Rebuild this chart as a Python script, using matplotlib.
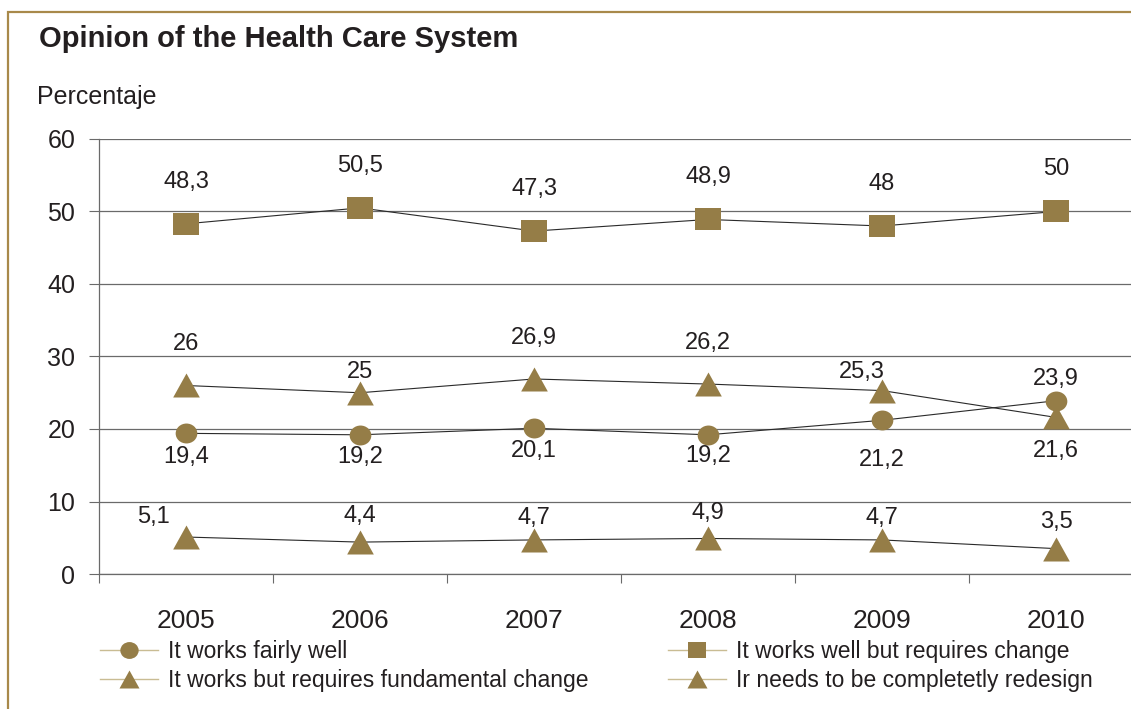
import matplotlib
matplotlib.use("Agg")
import matplotlib.pyplot as plt
import numpy as np
from matplotlib.path import Path
from matplotlib.lines import Line2D
from matplotlib.patches import Rectangle

# ---- data -------------------------------------------------------------
years = ["2005", "2006", "2007", "2008", "2009", "2010"]
fairly_well = [19.4, 19.2, 20.1, 19.2, 21.2, 23.9]
well_needs_change = [48.3, 50.5, 47.3, 48.9, 48.0, 50.0]
fundamental_change = [26.0, 25.0, 26.9, 26.2, 25.3, 21.6]
complete_redesign = [5.1, 4.4, 4.7, 4.9, 4.7, 3.5]

labels = [
    "It works fairly well",
    "It works well but requires change",
    "It works but requires fundamental change",
    "Ir needs to be completetly redesign",
]
yticks = [0, 10, 20, 30, 40, 50, 60]

# value-label offsets in pixels (dx, dy)
off_fairly = [(0, -24), (0, -22), (0, -23), (0, -21), (0, -40), (0, 22)]
off_well = [(0, 42)] * 6
off_fund = [(0, 41), (0, 21), (0, 41), (0, 41), (-20, 19), (0, -34)]
off_redesign = [(-33, 20), (0, 26), (0, 22), (0, 25), (0, 22), (0, 27)]

# ---- style ------------------------------------------------------------
plt.rcParams["font.family"] = ["Liberation Sans", "DejaVu Sans"]
GOLD = "#957D47"
LEG_LINE = "#C9BC93"
TEXT = "#231F20"
GRID = "#6A6A6A"

# slightly wide marker shapes
sq = Path([(-1, -0.885), (1, -0.885), (1, 0.885), (-1, 0.885), (-1, -0.885)],
          [Path.MOVETO, Path.LINETO, Path.LINETO, Path.LINETO, Path.CLOSEPOLY])
circ_base = Path.unit_circle()
circ = Path(circ_base.vertices * np.array([1.0, 0.92]), circ_base.codes)
tri = Path([(0, 0.9), (-1, -0.9), (1, -0.9), (0, 0.9)],
           [Path.MOVETO, Path.LINETO, Path.LINETO, Path.CLOSEPOLY])

W, H = 1131, 709
fig = plt.figure(figsize=(W / 100, H / 100), dpi=100)

# frame lines along the top and left
fig.patches.append(Rectangle((8 / W, -0.1), 1.2, 1 - 12 / H + 0.1,
                             transform=fig.transFigure, fill=False,
                             edgecolor="#A8894A", lw=1.6))

x0, xs = 99, 174
ax = fig.add_axes([x0 / W, (H - 574) / H, 6 * xs / W, (574 - 139) / H])
x = np.arange(len(years))

series = [
    (fairly_well, circ, 15.6, off_fairly),
    (well_needs_change, sq, 18.7, off_well),
    (fundamental_change, tri, 19.2, off_fund),
    (complete_redesign, tri, 19.2, off_redesign),
]
for vals, mk, ms, offs in series:
    ax.plot(x, vals, color="#2a2a2a", lw=0.8, zorder=3)
    ax.plot(x, vals, ls="none", marker=mk, ms=ms, color=GOLD,
            markeredgewidth=0, zorder=4)
    for xi, v, (dx, dy) in zip(x, vals, offs):
        ax.annotate(f"{v:g}".replace(".", ","), (xi, v), xytext=(dx, dy),
                    textcoords="offset pixels", ha="center", va="center",
                    fontsize=17, color=TEXT, zorder=5)

ax.set_xlim(-0.5, len(years) - 0.5)
ax.set_ylim(0, 60)
ax.set_yticks(yticks)
ax.set_yticklabels([str(t) for t in yticks])
ax.set_xticks(x)
ax.set_xticklabels(years)
ax.set_xticks(np.arange(-0.5, len(years)), minor=True)

ax.tick_params(axis="y", direction="out", length=7, width=0.8, color=GRID,
               pad=10, labelsize=18, labelcolor=TEXT)
ax.tick_params(axis="x", which="major", length=0, pad=25, labelsize=19,
               labelcolor=TEXT)
ax.tick_params(axis="x", which="minor", direction="out", length=6.5,
               width=0.8, color=GRID)

ax.grid(axis="y", color=GRID, lw=0.9)
ax.set_axisbelow(True)
for s in ("top", "right"):
    ax.spines[s].set_visible(False)
for s in ("left", "bottom"):
    ax.spines[s].set_color(GRID)
    ax.spines[s].set_linewidth(0.9)

# titles
fig.text(39 / W, 1 - 47 / H, "Opinion of the Health Care System",
         fontsize=21, fontweight="bold", color=TEXT, va="baseline")
fig.text(37 / W, 1 - 104 / H, "Percentaje", fontsize=18, color=TEXT,
         va="baseline")

# legend
def handle(mk, ms):
    return Line2D([], [], color=LEG_LINE, lw=1.0, marker=mk, ms=ms,
                  markerfacecolor=GOLD, markeredgewidth=0)

leg_kw = dict(frameon=False, fontsize=16.5, handlelength=2.55,
              handletextpad=0.4, labelspacing=0.25, borderpad=0,
              borderaxespad=0, loc="upper left", labelcolor=TEXT)
leg1 = fig.legend([handle(circ, 13.2), handle(tri, 14.4)],
                  [labels[0], labels[2]],
                  bbox_to_anchor=(100 / W, 1 - 640 / H), **leg_kw)
leg2 = fig.legend([handle(sq, 13.2), handle(tri, 14.4)],
                  [labels[1], labels[3]],
                  bbox_to_anchor=(668 / W, 1 - 640 / H), **leg_kw)

fig.savefig("out.png", dpi=100)
